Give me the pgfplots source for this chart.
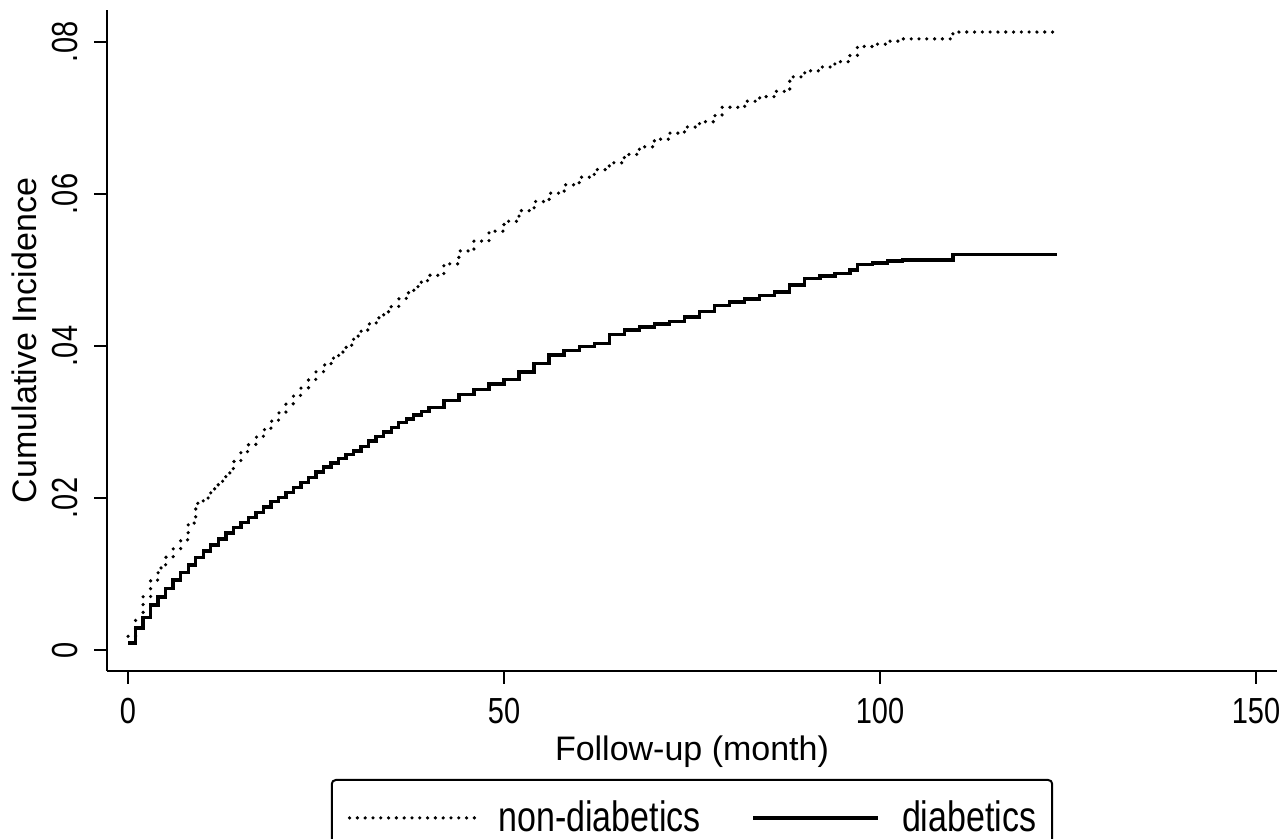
\documentclass[border=0pt]{standalone}
\usepackage{pgfplots}
\pgfplotsset{compat=1.18}
\usepackage{fontspec}
\setmainfont{Liberation Sans}
\usepackage{graphicx}
\newcommand{\tl}[1]{\scalebox{1}[1.25]{\fontsize{14.5}{17}\selectfont #1}}
\newcommand{\lt}[1]{\scalebox{1}[1.25]{#1}}
\begin{document}
\begin{tikzpicture}
\useasboundingbox (0,0) rectangle (643.5pt,419.5pt);
\begin{axis}[
  at={(53.5pt,84pt)}, anchor=south west,
  scale only axis, width=585pt, height=330.5pt,
  xmin=-2.8, xmax=152.8, ymin=-0.00276, ymax=0.0842,
  scaled x ticks=false, scaled y ticks=false,
  axis x line*=bottom, axis y line*=left,
  axis line style={line width=0.9pt,-},
  xtick={0,50,100,150}, ytick={0,0.02,0.04,0.06,0.08},
  xticklabels={\tl{0},\tl{50},\tl{100},\tl{150}},
  yticklabels={\tl{0},\tl{.02},\tl{.04},\tl{.06},\tl{.08}},
  tick align=outside, major tick length=6.5pt,
  tick style={line width=0.9pt, black},
  xticklabel style={anchor=north, inner sep=7pt},
  yticklabel style={rotate=90, anchor=south, inner sep=8pt},
  font=\fontsize{17}{20}\selectfont,
  xlabel={Follow-up (month)},
  xlabel style={at={([yshift=-45pt]axis description cs:0.5,0)}, anchor=base, inner sep=0pt},
  ylabel={Cumulative Incidence},
  ylabel style={at={([xshift=-35pt]axis description cs:0,0.5)}, anchor=base, inner sep=0pt},
  legend columns=2,
  legend image code/.code={\draw[#1] (0pt,0pt) -- (62.5pt,0pt);},
  legend style={at={([yshift=-54pt]axis description cs:0.5,0)}, anchor=north,
    draw=black, line width=1pt, rounded corners=2pt, inner xsep=8pt, inner ysep=10.5pt,
    nodes={inner sep=0pt}, cells={anchor=west},
    font=\fontsize{17}{20}\selectfont,
    /tikz/every odd column/.append style={column sep=11pt},
    /tikz/every even column/.append style={column sep=25.5pt}},
]
\addplot[const plot, black, line width=1.8pt, dash pattern=on 0pt off 3.9pt, line cap=round, rounded corners=0pt] coordinates {
(0,0.0018) (1,0.0039) (2,0.0070) (3,0.0092) (4,0.0108) (5,0.0122) (6,0.0133) (7,0.0145)
(8,0.0167) (9,0.0193) (10,0.0200) (11,0.0212) (12,0.0222) (13,0.0233) (14,0.0248) (15,0.0261)
(16,0.0270) (17,0.0280) (18,0.0290) (19,0.0301) (20,0.0312) (21,0.0324) (22,0.0335) (23,0.0345)
(24,0.0356) (25,0.0366) (26,0.0375) (27,0.0384) (28,0.0392) (29,0.0401) (30,0.0413) (31,0.0421)
(32,0.0429) (33,0.0437) (34,0.0445) (35,0.0452) (36,0.0462) (37,0.0470) (38,0.0478) (39,0.0486)
(40,0.0493) (42,0.0508) (44,0.0525) (46,0.0538) (48,0.0551) (50,0.0564) (52,0.0578) (54,0.0590)
(56,0.0601) (58,0.0612) (60,0.0622) (62,0.0632) (64,0.0641) (66,0.0652) (68,0.0662) (70,0.0672)
(72,0.0680) (74,0.0688) (76,0.0695) (78,0.0703) (79,0.0714) (82,0.0722) (84,0.0728) (86,0.0735)
(88,0.0754) (90,0.0762) (92,0.0767) (94,0.0774) (96,0.0782) (97,0.0794) (99,0.0797) (101,0.0801)
(103,0.0804) (109.7,0.0813) (123.5,0.0813)
};
\addlegendentry{\lt{non-diabetics}}
\addplot[const plot, black, line width=1.7pt, rounded corners=0pt] coordinates {
(0,0.0009) (1,0.0029) (2,0.0043) (3,0.0059) (4,0.0070) (5,0.0081) (6,0.0092) (7,0.0102)
(8,0.0112) (9,0.0122) (10,0.0130) (11,0.0138) (12,0.0146) (13,0.0154) (14,0.0161) (15,0.0168)
(16,0.0174) (17,0.0181) (18,0.0188) (19,0.0195) (20,0.0201) (21,0.0207) (22,0.0214) (23,0.0220)
(24,0.0227) (25,0.0234) (26,0.0241) (27,0.0246) (28,0.0252) (29,0.0257) (30,0.0262) (31,0.0268)
(32,0.0275) (33,0.0281) (34,0.0287) (35,0.0293) (36,0.0299) (37,0.0304) (38,0.0309) (39,0.0314)
(40,0.0319) (42,0.0328) (44,0.0336) (46,0.0343) (48,0.0350) (50,0.0356) (52,0.0366) (54,0.0377)
(56,0.0388) (58,0.0394) (60,0.0399) (62,0.0403) (64,0.0415) (66,0.0421) (68,0.0425) (70,0.0429)
(72,0.0432) (74,0.0438) (76,0.0445) (78,0.0453) (80,0.0458) (82,0.0462) (84,0.0466) (86,0.0471)
(88,0.0480) (90,0.0489) (92,0.0492) (94,0.0495) (96,0.0500) (97,0.0507) (99,0.0509) (101,0.0512)
(103,0.0513) (109.7,0.0520) (123.5,0.0520)
};
\addlegendentry{\lt{diabetics}}
\end{axis}
\end{tikzpicture}
\end{document}
